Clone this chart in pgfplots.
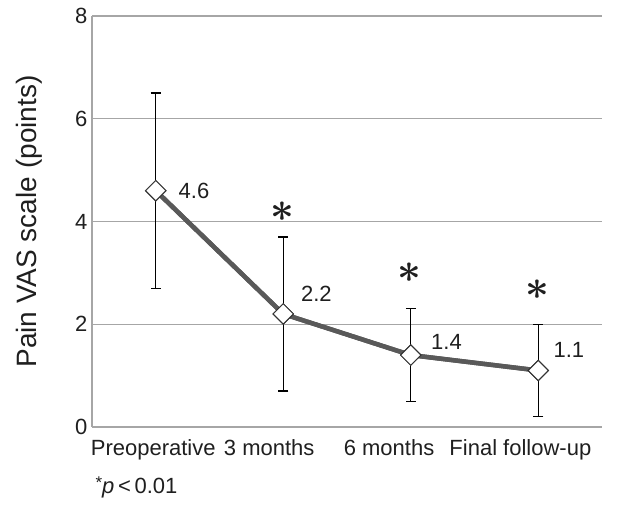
\documentclass[border=0pt]{standalone}
\usepackage{pgfplots}
\pgfplotsset{compat=1.18}
\usepackage{fontspec}
\setmainfont{Liberation Sans}
\definecolor{gridc}{RGB}{166,166,166}
\definecolor{linec}{RGB}{89,89,89}
\begin{document}
\begin{tikzpicture}
\begin{axis}[
  scale only axis, width=510pt, height=411pt,
  xmin=-0.5, xmax=3.5, ymin=0, ymax=8,
  axis x line*=bottom, axis y line*=left,
  axis line style={draw=gridc, line width=1.2pt, -},
  ytick={0,2,4,6,8},
  ymajorgrids, grid style={draw=gridc, line width=1.2pt},
  major tick length=0pt,
  xtick={-0.02,0.89,1.83,2.86},
  xticklabels={Preoperative,3 months,6 months,Final follow-up},
  tick label style={font=\fontsize{22}{26}\selectfont, text=black!88},
  xticklabel style={yshift=-9pt},
  yticklabel style={xshift=-1pt},
  /pgf/number format/assume math mode=true,
  ylabel={Pain VAS scale (points)},
  every axis y label/.style={at={(axis description cs:0,0.5)}, xshift=-63pt, rotate=90, anchor=center, font=\fontsize{28}{32}\selectfont, text=black!88},
  clip=false,
]
\addplot[color=linec, line width=4.5pt,
  mark=square*, mark size=7.2pt,
  mark options={rotate=45, fill=white, draw=black!80, line width=1pt},
  error bars/.cd, y dir=both, y explicit,
  error bar style={black, line width=1.2pt},
  error mark options={rotate=90, mark size=5pt, black, line width=1.2pt}]
coordinates {
 (0,4.6) +- (0,1.9)
 (1,2.2) +- (0,1.5)
 (2,1.4) +- (0,0.9)
 (3,1.1) +- (0,0.9)
};
\addplot[color=linec, line width=4.5pt,
  mark=square*, mark size=7.2pt,
  mark options={rotate=45, fill=white, draw=black!80, line width=1pt}]
coordinates {(0,4.6) (1,2.2) (2,1.4) (3,1.1)};
\begin{scope}[every node/.style={font=\fontsize{22}{26}\selectfont, text=black!88}]
\node at (axis cs:0.30,4.6) {4.6};
\node at (axis cs:1.26,2.6) {2.2};
\node at (axis cs:2.28,1.65) {1.4};
\node at (axis cs:3.24,1.5) {1.1};
\node at (axis cs:0.99,4.2) {\scalebox{2}{\boldmath$\ast$}};
\node at (axis cs:1.99,3.0) {\scalebox{2}{\boldmath$\ast$}};
\node at (axis cs:2.99,2.67) {\scalebox{2}{\boldmath$\ast$}};
\node[anchor=west] at ([xshift=0pt,yshift=-60pt]rel axis cs:0,0) {\raisebox{5pt}{\fontsize{17}{20}\selectfont *}\textit{p}\,<\,0.01};
\end{scope}
\coordinate (bl) at (rel axis cs:0,0);
\coordinate (tr) at (rel axis cs:1,1);
\end{axis}
\pgfresetboundingbox
\path ([xshift=-92pt,yshift=-83pt]bl) rectangle ([xshift=35pt,yshift=16pt]tr);
\end{tikzpicture}
\end{document}
